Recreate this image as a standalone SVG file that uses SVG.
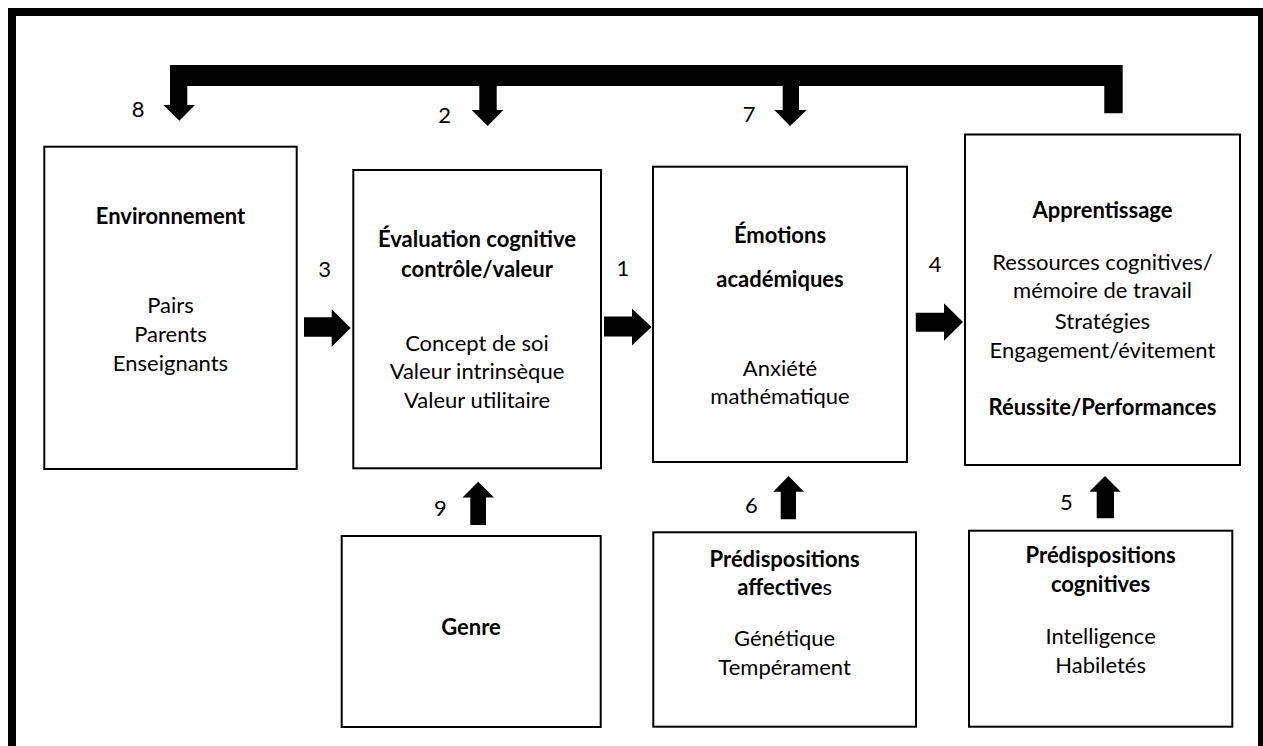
<svg xmlns="http://www.w3.org/2000/svg" width="1263" height="746" viewBox="0 0 1263 746">
  <style>
    .frame { fill: none; stroke: #000; stroke-width: 8; }
    .box { fill: #fff; stroke: #000; stroke-width: 2; }
    .arrow { fill: #000; stroke: none; }
    text { font-family: Lato, "Open Sans", "Liberation Sans", sans-serif; font-size: 22px; fill: #000; text-anchor: middle; }
    .t { font-weight: bold; }
    .num { text-anchor: start; }
  </style>

  <rect width="1263" height="746" fill="#fff"/>
  <rect class="frame" x="12" y="12" width="1250" height="760"/>

  <!-- Connectors -->
  <g id="connectors">
    <!-- feedback bar from Apprentissage back over the top, with arrow 8 -->
    <path class="arrow" d="M170,65 H1122.7 V113.3 H1104.3 V86 H187.3 V105 H195 L179.3,120.7 L163.3,105 H170 Z"/>
    <!-- arrow 2 -->
    <path class="arrow" d="M479.3,85 H496.7 V110 H503.3 L487.7,126 L471.7,110 H479.3 Z"/>
    <!-- arrow 7 -->
    <path class="arrow" d="M782.7,85 H799 V110 H806.7 L790,126 L774.3,110 H782.7 Z"/>
    <!-- arrow 3 -->
    <path class="arrow" d="M304,317.3 H331.7 V309.3 L350.7,328 L331.7,346.7 V336.7 H304 Z"/>
    <!-- arrow 1 -->
    <path class="arrow" d="M604,316.5 H632 V308.5 L651.5,327 L632,345.5 V336.5 H604 Z"/>
    <!-- arrow 4 -->
    <path class="arrow" d="M915.8,312.7 H944 V303.3 L963,322 L944,340.7 V331.7 H915.8 Z"/>
    <!-- arrow 9 -->
    <path class="arrow" d="M470.3,525 V497.4 H462.5 L478.2,481.7 L494,497.4 H486 V525 Z"/>
    <!-- arrow 6 -->
    <path class="arrow" d="M780.7,519.3 V491.7 H773.3 L788.6,476 L804,491.7 H796 V519.3 Z"/>
    <!-- arrow 5 -->
    <path class="arrow" d="M1096.7,518.3 V491.7 H1089.3 L1105,476 L1120.7,491.7 H1114 V518.3 Z"/>

    <text class="num" x="131.7" y="116.7">8</text>
    <text class="num" x="438.3" y="122.5">2</text>
    <text class="num" x="742.7" y="122">7</text>
    <text class="num" x="318.3" y="276.7">3</text>
    <text class="num" x="616.5" y="276">1</text>
    <text class="num" x="928.7" y="271.7">4</text>
    <text class="num" x="433.9" y="516">9</text>
    <text class="num" x="745" y="513.3">6</text>
    <text class="num" x="1060" y="510">5</text>
  </g>

  <g id="environnement">
    <rect class="box" x="44.3" y="146.7" width="252.4" height="322.3"/>
    <text class="t" x="170.5" y="224">Environnement</text>
    <text x="170.5" y="312.7">Pairs</text>
    <text x="170.5" y="341.7">Parents</text>
    <text x="170.5" y="370.7">Enseignants</text>
  </g>

  <g id="evaluation">
    <rect class="box" x="353.3" y="170" width="247.7" height="298.3"/>
    <text class="t" x="477" y="247.3">Évaluation cognitive</text>
    <text class="t" x="477" y="276.7">contrôle/valeur</text>
    <text x="477" y="350.7">Concept de soi</text>
    <text x="477" y="379.3">Valeur intrinsèque</text>
    <text x="477" y="408.3">Valeur utilitaire</text>
  </g>

  <g id="emotions">
    <rect class="box" x="653" y="166.7" width="254" height="295.3"/>
    <text class="t" x="780" y="243.3">Émotions</text>
    <text class="t" x="780" y="286.7">académiques</text>
    <text x="780" y="376">Anxiété</text>
    <text x="780" y="404">mathématique</text>
  </g>

  <g id="apprentissage">
    <rect class="box" x="965" y="134.5" width="275" height="330.5"/>
    <text class="t" x="1102.5" y="218.3">Apprentissage</text>
    <text x="1102.5" y="270">Ressources cognitives/</text>
    <text x="1102.5" y="298.3">mémoire de travail</text>
    <text x="1102.5" y="329.3">Stratégies</text>
    <text x="1102.5" y="357.7">Engagement/évitement</text>
    <text class="t" x="1102.5" y="415">Réussite/Performances</text>
  </g>

  <g id="genre">
    <rect class="box" x="341.7" y="536" width="259" height="191"/>
    <text class="t" x="471" y="635">Genre</text>
  </g>

  <g id="predispositions-affectives">
    <rect class="box" x="653.3" y="532.3" width="262.7" height="194.4"/>
    <text class="t" x="784.6" y="566.7">Prédispositions</text>
    <text x="784.6" y="595"><tspan class="t">affective</tspan>s</text>
    <text x="784.6" y="646">Génétique</text>
    <text x="784.6" y="675">Tempérament</text>
  </g>

  <g id="predispositions-cognitives">
    <rect class="box" x="969" y="530.7" width="263.3" height="196"/>
    <text class="t" x="1100.6" y="563.3">Prédispositions</text>
    <text class="t" x="1100.6" y="591.7">cognitives</text>
    <text x="1100.6" y="644">Intelligence</text>
    <text x="1100.6" y="673.3">Habiletés</text>
  </g>
</svg>
